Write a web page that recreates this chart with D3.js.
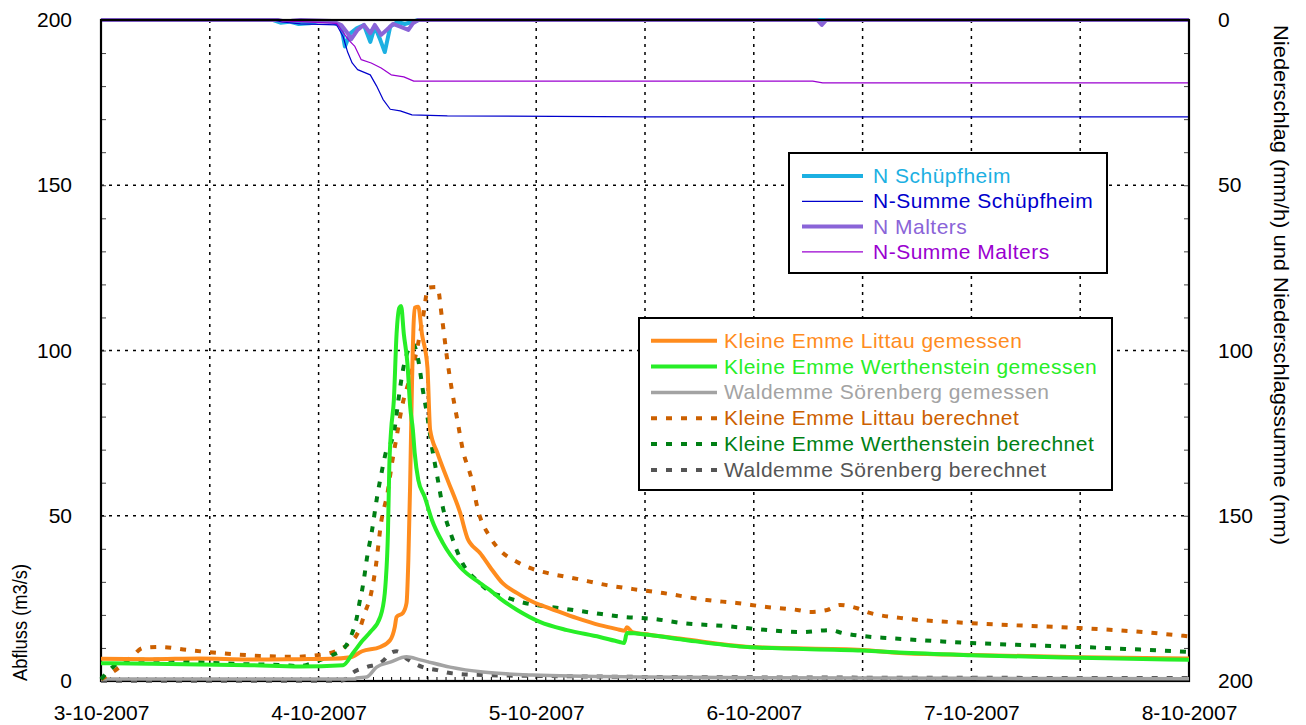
<!DOCTYPE html>
<html><head><meta charset="utf-8">
<script src="https://cdn.jsdelivr.net/npm/d3@7"></script>
<style>
html,body{margin:0;padding:0;background:#fff;}
svg text{font-family:"Liberation Sans",Arial,Helvetica,sans-serif;}
</style></head>
<body><svg id="chart" width="1306" height="725"></svg>
<script>
// ---- DATA (time in hours after 3-10-2007 00:00, value) ----
const startDate = Date.UTC(2007, 9, 3);
const endDate = Date.UTC(2007, 9, 8);
const dayTicks = ["3-10-2007","4-10-2007","5-10-2007","6-10-2007","7-10-2007","8-10-2007"];
const leftTicks = [0, 50, 100, 150, 200];
const rightTicks = [0, 50, 100, 150, 200];

const littauGemessen = [[0,6.7],[5.4,6.6],[10.9,6.8],[16.4,6.5],[21.9,6.6],[25.3,6.7],[27.5,7.2],[28.8,9],[30.8,10.3],[31.9,12.4],[32.4,16.3],[32.6,19.4],[33.3,20.6],[33.7,23.6],[33.9,36.6],[34.1,60],[34.3,90],[34.6,112.9],[35.0,113.2],[35.4,105],[36.0,95],[36.3,76],[37.1,69],[38.2,61],[39.6,51],[40.5,42.7],[40.7,41.8],[41.8,38.7],[42.9,34.5],[44.3,29.6],[45.9,26.6],[47.9,23.6],[49.5,22],[52.5,19],[55.0,16.9],[56.9,15.7],[57.8,15.2],[58.0,16.3],[58.6,14.8],[60.5,14],[64.2,12.7],[71.6,10.3],[84.0,9.4],[88.1,8.5],[96,7.9],[108,7.2],[120,6.8]];
const werthGemessen = [[0,5.4],[5.4,5.2],[10.9,5.0],[16.4,4.8],[21.9,4.4],[26.7,4.8],[27.8,8.5],[28.9,12.4],[29.7,14.8],[30.8,19.4],[31.3,26.6],[31.4,30],[31.65,45],[31.8,65],[32.0,76],[32.3,85],[32.6,105],[32.9,112.9],[33.1,113.5],[33.4,105],[33.8,96],[34.1,83],[34.4,76],[34.6,69],[35.0,60.8],[35.7,55.7],[36.5,48.7],[37.7,41.8],[39.6,34.5],[41.8,29.6],[42.9,27.5],[44.0,25],[45.9,21.5],[48.4,17.9],[51.4,15.4],[55.0,13.3],[57.2,11.8],[57.7,11.5],[58.0,14.5],[60.5,13.9],[64.2,12.5],[71.6,10.2],[84,9.2],[88,8.6],[96,7.8],[108,7.0],[120,6.4]];
const soerenbergGemessen = [[0,0.6],[28,0.6],[28.2,0.9],[29.3,1.2],[30.4,4.2],[31.9,5.7],[33.7,7.3],[35.2,6.4],[38.5,4.2],[42.1,2.7],[47.6,1.8],[59.8,1.2],[72,1.0],[96,0.8],[120,0.7]];
const littauBerechnet = [[0,0.5],[1.3,2.7],[3.4,7.3],[4.6,10],[6.5,10.3],[9.5,9.4],[12.8,8.5],[17.5,7.6],[20.9,7.3],[24.2,7.9],[27.5,11.6],[28.6,16.3],[29.1,20.6],[29.7,25.4],[30.3,34.5],[30.9,48],[31.6,56.9],[32.1,66],[32.6,73.8],[33.2,83],[34.1,92],[34.9,101],[35.5,109.8],[36.1,119],[37.1,119.2],[37.6,110],[38.2,97],[38.7,88],[39.3,79],[39.9,70],[40.9,60.8],[41.5,52.6],[42.9,43.6],[44.0,39.6],[45.9,36],[47.3,34.2],[49.2,32.7],[52.5,30.9],[55.8,29],[58.7,27.8],[62.0,26.6],[66.8,24.5],[70.1,23.6],[73.4,22.4],[76.8,21.5],[78.2,20.9],[80.1,21.5],[81.5,23],[83.4,22],[84.8,20.6],[88.1,19.1],[96,17.5],[108,16],[114,15],[120,13.5]];
const werthBerechnet = [[0,0.5],[0.4,1.8],[1.3,4.2],[2.6,6.4],[4.3,6.4],[7.3,6.4],[10.9,5.7],[15.7,5.1],[20.1,4.8],[21.9,4.5],[24.2,6.4],[25.6,7.9],[26.9,10.2],[27.7,14.5],[28.2,19],[28.5,23.6],[28.8,27.5],[29.1,32.7],[29.3,36.6],[29.9,45.7],[30.4,54.8],[31.0,63.8],[31.5,70],[32.1,73],[32.4,76.8],[32.8,85],[33.3,94],[33.8,99.5],[34.4,102],[35.0,97],[35.5,88],[36.0,80],[36.5,70.8],[37.1,61.7],[37.7,52.6],[38.7,43.6],[39.9,35.5],[41.5,30.3],[42.9,27],[44.6,25.4],[46.2,24],[49.5,22.4],[51.2,21.8],[54.3,20.6],[57.6,19.4],[60.9,18.8],[64.2,17.5],[69.0,16.6],[72.4,15.7],[77.1,14.8],[80.4,15.4],[81.8,14.5],[85.1,13.3],[86.7,13],[96,11.5],[108,10.3],[120,8.8]];
const soerenbergBerechnet = [[0,0.1],[26.5,0.1],[26.9,0.5],[27.7,2.4],[29.3,4.2],[30.8,5.4],[32.2,8.8],[32.6,9],[33.9,6.4],[35.5,4.2],[37.1,3.3],[38.5,2.4],[42.1,1.8],[49.5,1.5],[72,1.1],[120,0.9]];

// precipitation (right axis, reversed)
const nSchuepfheim = [[0,0],[19,0],[19.8,0.8],[20.8,0.5],[21.8,1.2],[23,1],[24,0.3],[25.5,0.5],[26.5,2],[26.9,8],[27.5,4],[28.2,2.5],[29,1.5],[29.7,6.6],[30.2,2],[30.8,6],[31.3,9.7],[31.9,2],[32.7,0.6],[33.5,1.2],[34.3,0.6],[35,0],[120,0]];
const nSummeSchuepfheim = [[0,0],[19,0],[20,0.6],[22,1.2],[26,1.5],[26.7,5],[27.2,9.7],[27.7,13],[28.3,15],[29.7,16.6],[30.4,20],[31.1,24],[31.9,27],[33,27.5],[34.3,28.7],[38.2,29],[60,29.3],[120,29.3]];
const nMalters = [[0,0],[19.5,0],[20,0.3],[21,0.2],[22,0],[25.5,0.3],[26.5,1.5],[27.2,4],[27.6,5.8],[28.3,3],[29,1.5],[29.7,4],[30.2,1.5],[30.9,4.5],[31.5,3],[32.2,1.2],[33,2],[33.9,3],[34.4,1],[35,0],[79,0],[79.5,1.5],[80,0],[120,0]];
const nSummeMalters = [[0,0],[19.5,0],[20,0.3],[22,0.5],[26,1],[26.5,3],[27.3,6],[28,8],[28.7,12],[29.8,13],[30.9,14.5],[32,16.6],[33.4,17.2],[34.5,18.5],[78.5,18.5],[79.6,19],[120,19]];

const flowSeries = [
  {name:"Kleine Emme Littau gemessen", data:littauGemessen, color:"#ff8c1e", width:4, dash:null},
  {name:"Kleine Emme Werthenstein gemessen", data:werthGemessen, color:"#27ee27", width:4, dash:null},
  {name:"Waldemme Sörenberg gemessen", data:soerenbergGemessen, color:"#a3a3a3", width:3.5, dash:null},
  {name:"Kleine Emme Littau berechnet", data:littauBerechnet, color:"#cc6000", width:4, dash:"6,9"},
  {name:"Kleine Emme Werthenstein berechnet", data:werthBerechnet, color:"#007f14", width:4, dash:"6,9"},
  {name:"Waldemme Sörenberg berechnet", data:soerenbergBerechnet, color:"#555555", width:4, dash:"6,9"}
];
const rainSeries = [
  {name:"N Schüpfheim", data:nSchuepfheim, color:"#1cb0e2", width:4},
  {name:"N-Summe Schüpfheim", data:nSummeSchuepfheim, color:"#0000cc", width:1.2},
  {name:"N Malters", data:nMalters, color:"#8a64d8", width:4},
  {name:"N-Summe Malters", data:nSummeMalters, color:"#9a00d0", width:1.2}
];

// ---- CHART ----
const svg = d3.select("#chart");
const L = 101, R = 1189, T = 20, B = 681;
const x = d3.scaleUtc().domain([startDate, endDate]).range([L, R]);
const yL = d3.scaleLinear().domain([0, 200]).range([B, T]);
const yR = d3.scaleLinear().domain([0, 200]).range([T, B]);
const toDate = h => new Date(startDate + h * 3600e3);

// gridlines
const grid = svg.append("g").attr("stroke", "#000").attr("stroke-width", 1.5).attr("stroke-dasharray", "3,5");
const halfDays = x.ticks(d3.utcHour.every(12)).filter(d => +d > startDate && +d < endDate);
grid.selectAll("line.v").data(halfDays).join("line")
  .attr("x1", d => x(d)).attr("x2", d => x(d)).attr("y1", T).attr("y2", B);
grid.selectAll("line.h").data([50, 100, 150]).join("line")
  .attr("x1", L).attr("x2", R).attr("y1", d => yL(d)).attr("y2", d => yL(d));

// minor ticks
svg.append("g").attr("transform", `translate(0,${B})`)
  .call(d3.axisBottom(x).ticks(d3.utcHour.every(1)).tickSize(-4).tickFormat(""))
  .call(g => g.select(".domain").remove())
  .call(g => g.selectAll("line").attr("stroke", "#000"));
svg.append("g").attr("transform", `translate(${L},0)`)
  .call(d3.axisLeft(yL).tickValues(d3.range(0, 201, 10)).tickSize(-5).tickFormat(""))
  .call(g => g.select(".domain").remove())
  .call(g => g.selectAll("line").attr("stroke", "#444"));
svg.append("g").attr("transform", `translate(${R},0)`)
  .call(d3.axisRight(yR).tickValues(d3.range(0, 201, 10)).tickSize(-5).tickFormat(""))
  .call(g => g.select(".domain").remove())
  .call(g => g.selectAll("line").attr("stroke", "#444"));

// labelled axes
const days = d3.range(0, 6).map(i => new Date(startDate + i * 864e5));
const xAxis = svg.append("g").attr("transform", `translate(0,${B})`)
  .call(d3.axisBottom(x).tickValues(days).tickSize(0).tickPadding(24).tickFormat((d, i) => dayTicks[i]));
const yAxisL = svg.append("g").attr("transform", `translate(${L},0)`)
  .call(d3.axisLeft(yL).tickValues(leftTicks).tickSize(0).tickPadding(29));
const yAxisR = svg.append("g").attr("transform", `translate(${R},0)`)
  .call(d3.axisRight(yR).tickValues(rightTicks).tickSize(0).tickPadding(29));
[xAxis, yAxisL, yAxisR].forEach(g => {
  g.select(".domain").remove();
  g.selectAll("text").attr("font-size", 21).attr("fill", "#000")
    .attr("font-family", "'Liberation Sans',Arial,sans-serif");
});
xAxis.selectAll("text").attr("dy", "0.71em");

// axis titles
svg.append("text").attr("transform", `translate(27,${B}) rotate(-90)`)
  .attr("font-size", 20).attr("textLength", 117).attr("lengthAdjust", "spacingAndGlyphs")
  .text("Abfluss (m3/s)");
svg.append("text").attr("transform", `translate(1274,25) rotate(90)`)
  .attr("font-size", 20).attr("textLength", 520).attr("lengthAdjust", "spacingAndGlyphs")
  .text("Niederschlag (mm/h) und Niederschlagssumme (mm)");

// precipitation lines (drawn under the frame)
const lineR = d3.line().x(d => x(toDate(d[0]))).y(d => yR(d[1]));
[0, 2, 1, 3].forEach(i => {
  const s = rainSeries[i];
  svg.append("path").datum(s.data).attr("d", lineR)
    .attr("fill", "none").attr("stroke", s.color).attr("stroke-width", s.width)
    .attr("stroke-linejoin", "round");
});

// frame
svg.append("rect").attr("x", L).attr("y", T).attr("width", R - L).attr("height", B - T)
  .attr("fill", "none").attr("stroke", "#000").attr("stroke-width", 2.2);

// flow lines
const lineL = d3.line().curve(d3.curveMonotoneX).x(d => x(toDate(d[0]))).y(d => yL(d[1]));
const drawOrder = [5, 2, 3, 4, 0, 1];
drawOrder.forEach(i => {
  const s = flowSeries[i];
  svg.append("path").datum(s.data).attr("d", lineL)
    .attr("fill", "none").attr("stroke", s.color).attr("stroke-width", s.width)
    .attr("stroke-dasharray", s.dash).attr("stroke-linejoin", "round");
});

// legends
function legend(series, bx, by, bw, bh, lx1, lx2, tx, y0, dy) {
  const g = svg.append("g");
  g.append("rect").attr("x", bx).attr("y", by).attr("width", bw).attr("height", bh)
    .attr("fill", "#fff").attr("stroke", "#000").attr("stroke-width", 2);
  series.forEach((s, i) => {
    const yy = y0 + i * dy;
    g.append("line").attr("x1", lx1).attr("x2", lx2).attr("y1", yy).attr("y2", yy)
      .attr("stroke", s.color).attr("stroke-width", s.width).attr("stroke-dasharray", s.dash || null);
    g.append("text").attr("x", tx).attr("y", yy + 7).attr("font-size", 21)
      .attr("letter-spacing", "0.5px").attr("fill", s.color).text(s.name);
  });
}
legend(rainSeries, 789, 153, 318, 120, 802, 863, 873, 176, 25.3);
legend(flowSeries, 639, 318, 473, 172, 651, 717, 724, 340.7, 25.85);
</script></body></html>
